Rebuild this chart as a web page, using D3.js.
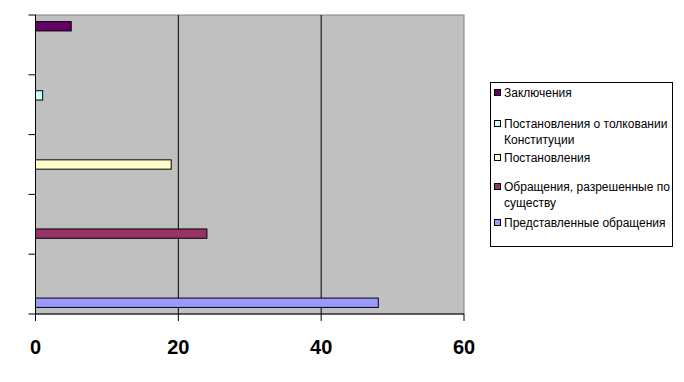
<!DOCTYPE html>
<html lang="ru">
<head>
<meta charset="UTF-8">
<title>Bar chart</title>
<style>
  body { margin: 0; background: #fff; font-family: "Liberation Sans", Arial, sans-serif; }
  .tick-label { font: bold 20px "Liberation Sans", Arial, sans-serif; fill: #000; }
  .legend text { font: 12px "Liberation Sans", Arial, sans-serif; fill: #000; }
</style>
</head>
<body>
<svg width="684" height="382"></svg>
<script src="https://d3js.org/d3.v7.min.js"></script>
<script>
// series, one bar each (Excel draws first series at the bottom)
const seriesNames = [
  "Представленные обращения",
  "Обращения, разрешенные по существу",
  "Постановления",
  "Постановления о толковании Конституции",
  "Заключения"
];
const values = [48, 24, 19, 1, 5];
const colors = ["#9999FF", "#993366", "#FFFFCC", "#CCFFFF", "#660066"];
const xTicks = [0, 20, 40, 60];

// legend is listed top-down in reverse order, long names wrapped
const legendLines = [
  ["Заключения"],
  ["Постановления о толковании", "Конституции"],
  ["Постановления"],
  ["Обращения, разрешенные по", "существу"],
  ["Представленные обращения"]
];
const legendY = [93, 124, 158, 187, 223];

const svg = d3.select("svg");
const plot = { left: 35.5, right: 464, top: 15, bottom: 314 };

const x = d3.scaleLinear().domain([0, 60]).range([plot.left, plot.right]);
// categories: one per series, first at bottom
const y = d3.scaleBand().domain(d3.range(5)).range([plot.bottom, plot.top]);
const inner = d3.scaleBand().domain(d3.range(5))
  .range([y.bandwidth() - 6.6, 6.6]);

// plot background
svg.append("rect")
  .attr("x", plot.left).attr("y", plot.top)
  .attr("width", plot.right - plot.left).attr("height", plot.bottom - plot.top)
  .attr("fill", "#C0C0C0").attr("stroke", "#808080");

// gridlines
svg.append("g").selectAll("line")
  .data(xTicks.filter(d => d > 0 && d < 60))
  .enter().append("line")
  .attr("x1", d => x(d)).attr("x2", d => x(d))
  .attr("y1", plot.top).attr("y2", plot.bottom)
  .attr("stroke", "#000").attr("stroke-width", 1);

// bars
svg.append("g").selectAll("rect")
  .data(values)
  .enter().append("rect")
  .attr("x", x(0))
  .attr("y", (d, i) => y(i) + inner(i))
  .attr("width", d => x(d) - x(0))
  .attr("height", inner.bandwidth())
  .attr("fill", (d, i) => colors[i])
  .attr("stroke", "#000").attr("stroke-width", 1);

// y axis (no labels)
const yAxis = svg.append("g");
yAxis.append("line")
  .attr("x1", plot.left).attr("x2", plot.left)
  .attr("y1", plot.top).attr("y2", plot.bottom)
  .attr("stroke", "#000");
yAxis.selectAll(".yt")
  .data(d3.range(6))
  .enter().append("line")
  .attr("x1", plot.left - 7).attr("x2", plot.left)
  .attr("y1", i => plot.bottom - i * y.step())
  .attr("y2", i => plot.bottom - i * y.step())
  .attr("stroke", "#000");

// x axis
const xAxis = svg.append("g");
xAxis.append("line")
  .attr("x1", plot.left).attr("x2", plot.right)
  .attr("y1", plot.bottom).attr("y2", plot.bottom)
  .attr("stroke", "#000");
xAxis.selectAll(".xt")
  .data(xTicks)
  .enter().append("line")
  .attr("x1", d => x(d)).attr("x2", d => x(d))
  .attr("y1", plot.bottom).attr("y2", plot.bottom + 7)
  .attr("stroke", "#000");
xAxis.selectAll("text")
  .data(xTicks)
  .enter().append("text")
  .attr("class", "tick-label")
  .attr("x", d => x(d))
  .attr("y", 354)
  .attr("text-anchor", "middle")
  .text(d => d);

// legend
const legend = svg.append("g").attr("class", "legend");
legend.append("rect")
  .attr("x", 490.5).attr("y", 82.5)
  .attr("width", 182).attr("height", 164)
  .attr("fill", "#fff").attr("stroke", "#000");

legendLines.forEach((lines, k) => {
  const si = 4 - k;
  legend.append("rect")
    .attr("x", 494.5).attr("y", legendY[k] - 3.5)
    .attr("width", 6).attr("height", 6)
    .attr("fill", colors[si]).attr("stroke", "#000");
  legend.append("text")
    .attr("x", 504).attr("y", legendY[k] + 4)
    .selectAll("tspan")
    .data(lines)
    .enter().append("tspan")
    .attr("x", 504)
    .attr("dy", (d, j) => j === 0 ? 0 : 16)
    .text(d => d);
});
</script>
</body>
</html>
